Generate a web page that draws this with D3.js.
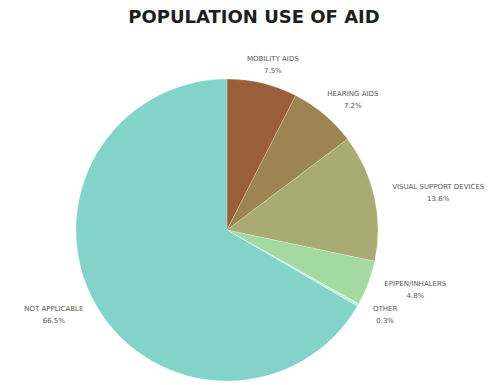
<!DOCTYPE html>
<html>
<head>
<meta charset="utf-8">
<script src="https://cdn.jsdelivr.net/npm/d3@7/dist/d3.min.js"></script>
<style>
  html, body { margin: 0; padding: 0; background: #fff; }
  svg { display: block; }
</style>
</head>
<body>
<svg id="chart" width="498" height="385"></svg>
<script>
// Share of the population using each kind of aid
const categories = ["MOBILITY AIDS", "HEARING AIDS", "VISUAL SUPPORT DEVICES", "EPIPEN/INHALERS", "OTHER", "NOT APPLICABLE"];
const shares = [7.5, 7.2, 13.6, 4.8, 0.3, 66.5];
const valueLabels = ["7.5%", "7.2%", "13.6%", "4.8%", "0.3%", "66.5%"];
const sliceColors = ["#9a5f38", "#9d8552", "#a8ac73", "#a5d9a2", "#c4efd9", "#84d3cb"];

const svg = d3.select("#chart");
const cx = 227, cy = 230, radius = 151;

svg.append("text")
  .attr("x", 254)
  .attr("y", 23)
  .attr("text-anchor", "middle")
  .attr("font-family", "DejaVu Sans, sans-serif")
  .attr("font-weight", "bold")
  .attr("font-size", 18)
  .attr("fill", "#1e1e1e")
  .text("POPULATION USE OF AID");

const data = categories.map((c, i) => ({ name: c, value: shares[i], label: valueLabels[i], color: sliceColors[i] }));

const pie = d3.pie().value(d => d.value).sort(null);
const arcs = pie(data);
const arc = d3.arc().innerRadius(0).outerRadius(radius);

const g = svg.append("g").attr("transform", `translate(${cx},${cy})`);

g.selectAll("path.slice")
  .data(arcs)
  .enter().append("path")
  .attr("class", "slice")
  .attr("d", arc)
  .attr("fill", d => d.data.color)
  .attr("stroke", "rgba(255,255,255,0.35)")
  .attr("stroke-width", 0.6);

// Labels sit just outside the rim, pushed sideways by half their width
const labelRadius = radius + 19;
const lineGap = 12;
const fontSize = 7;
const labels = g.selectAll("g.label")
  .data(arcs)
  .enter().append("g")
  .attr("class", "label");

labels.each(function(d) {
  const sel = d3.select(this);
  const t = sel.append("text")
    .attr("text-anchor", "middle")
    .attr("font-family", "DejaVu Sans, sans-serif")
    .attr("font-size", fontSize)
    .attr("fill", "#555");
  t.append("tspan").attr("x", 0).attr("dy", 0).text(d.data.name);
  t.append("tspan").attr("x", 0).attr("dy", lineGap).text(d.data.label);
  const bb = t.node().getBBox();
  const a = (d.startAngle + d.endAngle) / 2;
  const px = labelRadius * Math.sin(a);
  const py = -labelRadius * Math.cos(a);
  const tx = px + Math.sin(a) * bb.width / 2;
  const ty = py - (bb.y + bb.height / 2);
  sel.attr("transform", `translate(${tx},${ty})`);
});
</script>
</body>
</html>
